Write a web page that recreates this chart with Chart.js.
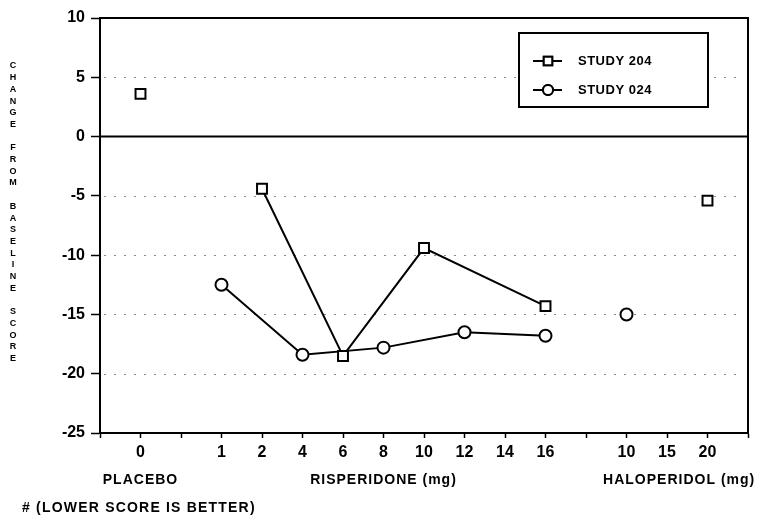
<!DOCTYPE html>
<html>
<head>
<meta charset="utf-8">
<script src="https://cdn.jsdelivr.net/npm/chart.js@4/dist/chart.umd.min.js"></script>
<style>
  html, body { margin: 0; padding: 0; background: #fff; }
  #wrap { width: 761px; height: 520px; }
</style>
</head>
<body>
<div id="wrap"><canvas id="chart" width="761" height="520"></canvas></div>
<script>
// dose categories along the x axis ('' = empty slot)
const categories = ['', '0', '', '1', '2', '4', '6', '8', '10', '12', '14', '16', '', '10', '15', '20', ''];
const doseGroup  = ['', 'placebo', '', 'risp', 'risp', 'risp', 'risp', 'risp', 'risp', 'risp', 'risp', 'risp', '', 'halo', 'halo', 'halo', ''];

// change from baseline score
const study204 = [null, 3.6, null, null, -4.4, null, -18.5, null, -9.4, null, null, -14.3, null, null, null, -5.4, null];
const study024 = [null, null, null, -12.5, null, -18.4, null, -17.8, null, -16.5, null, -16.8, null, -15.0, null, null, null];

const yTicks = [10, 5, 0, -5, -10, -15, -20, -25];
const yTitle = 'CHANGE FROM BASELINE SCORE';
const groupLabels = ['PLACEBO', 'RISPERIDONE (mg)', 'HALOPERIDOL (mg)'];
const footnote = '# (LOWER SCORE IS BETTER)';

const FONT = '"Liberation Sans", Arial, sans-serif';

function onlyGroup(values, keep) {
    return values.map((v, i) => keep(doseGroup[i]) ? v : null);
}

const baseStyle = {
    borderColor: '#000',
    backgroundColor: '#fff',
    borderWidth: 2,
    pointBorderWidth: 2,
    pointBackgroundColor: '#fff',
    pointBorderColor: '#000'
};

const datasets = [
    Object.assign({}, baseStyle, {
        label: 'STUDY 204',
        data: onlyGroup(study204, g => g === 'risp'),
        pointStyle: 'rect', pointRadius: 7, spanGaps: true
    }),
    Object.assign({}, baseStyle, {
        label: 'STUDY 024',
        data: onlyGroup(study024, g => g === 'risp'),
        pointStyle: 'circle', pointRadius: 6, spanGaps: true
    }),
    Object.assign({}, baseStyle, {
        label: '_204ctl',
        data: onlyGroup(study204, g => g !== 'risp'),
        pointStyle: 'rect', pointRadius: 7, showLine: false
    }),
    Object.assign({}, baseStyle, {
        label: '_024ctl',
        data: onlyGroup(study024, g => g !== 'risp'),
        pointStyle: 'circle', pointRadius: 6, showLine: false
    })
];

const decor = {
    id: 'decor',
    beforeDatasetsDraw(chart) {
        const { ctx, chartArea: a, scales: { x, y } } = chart;
        ctx.save();
        // dotted grid lines
        ctx.strokeStyle = '#888';
        ctx.lineWidth = 1;
        ctx.setLineDash([2, 8]);
        yTicks.forEach(v => {
            if (v === 10 || v === 0 || v === -25) return;
            const py = Math.round(y.getPixelForValue(v)) + 0.5;
            ctx.beginPath();
            ctx.moveTo(a.left + 4, py);
            ctx.lineTo(a.right - 4, py);
            ctx.stroke();
        });
        ctx.setLineDash([]);
        // solid zero line, top and right frame
        ctx.strokeStyle = '#000';
        ctx.lineWidth = 2;
        const y0 = y.getPixelForValue(0);
        ctx.beginPath();
        ctx.moveTo(a.left, y0); ctx.lineTo(a.right, y0);
        ctx.moveTo(a.left, a.top); ctx.lineTo(a.right, a.top); ctx.lineTo(a.right, a.bottom);
        ctx.stroke();
        ctx.restore();
    },
    afterDraw(chart) {
        const { ctx, chartArea: a, scales: { x, y } } = chart;
        ctx.save();
        ctx.fillStyle = '#000';

        // vertical stacked y title
        ctx.font = 'bold 9px ' + FONT;
        ctx.textAlign = 'center';
        ctx.textBaseline = 'middle';
        const step = 11.7;
        for (let i = 0; i < yTitle.length; i++) {
            ctx.fillText(yTitle[i], 13, 66 + i * step);
        }

        // group labels under the x axis, centred on each dose group
        ctx.font = 'bold 14px ' + FONT;
        ctx.letterSpacing = '1px';
        const gy = 480;
        ctx.fillText(groupLabels[0], x.getPixelForValue(1), gy);
        ctx.fillText(groupLabels[1], x.getPixelForValue(7), gy);
        ctx.fillText(groupLabels[2], x.getPixelForValue(14.3), gy);

        // footnote
        ctx.textAlign = 'left';
        ctx.letterSpacing = '1.2px';
        ctx.fillText(footnote, 22, 508);

        // legend box
        const bx = 519, by = 33, bw = 189, bh = 74;
        ctx.letterSpacing = '0.5px';
        ctx.strokeStyle = '#000';
        ctx.lineWidth = 2;
        ctx.fillStyle = '#fff';
        ctx.fillRect(bx, by, bw, bh);
        ctx.strokeRect(bx, by, bw, bh);
        const rows = [
            { ds: chart.data.datasets[0], yy: 61 },
            { ds: chart.data.datasets[1], yy: 90 }
        ];
        rows.forEach(r => {
            ctx.strokeStyle = '#000';
            ctx.lineWidth = 2;
            ctx.beginPath();
            ctx.moveTo(533, r.yy); ctx.lineTo(562, r.yy);
            ctx.stroke();
            ctx.fillStyle = '#fff';
            Chart.helpers.drawPoint(ctx, {
                pointStyle: r.ds.pointStyle,
                radius: r.ds.pointRadius - 1,
                borderWidth: 2
            }, 548, r.yy);
            ctx.fill();
            ctx.stroke();
            ctx.fillStyle = '#000';
            ctx.font = 'bold 13px ' + FONT;
            ctx.textAlign = 'left';
            ctx.fillText(r.ds.label, 578, r.yy);
        });
        ctx.restore();
    }
};

new Chart(document.getElementById('chart'), {
    type: 'line',
    data: { labels: categories, datasets: datasets },
    options: {
        responsive: false,
        animation: false,
        layout: { padding: { top: 18, right: 13, left: 0, bottom: 0 } },
        plugins: {
            legend: { display: false },
            tooltip: { enabled: false }
        },
        scales: {
            x: {
                type: 'category',
                offset: false,
                afterFit: s => { s.height = 87; },
                grid: {
                    drawOnChartArea: false,
                    offset: false,
                    tickLength: 5,
                    tickColor: '#000',
                    tickWidth: 1.5
                },
                border: { color: '#000', width: 2 },
                ticks: {
                    color: '#000',
                    font: { family: FONT, weight: 'bold', size: 16 },
                    padding: 5,
                    autoSkip: false,
                    maxRotation: 0
                }
            },
            y: {
                min: -25,
                max: 10,
                afterFit: s => { s.width = 100; },
                afterBuildTicks: s => { s.ticks = yTicks.map(v => ({ value: v })); },
                grid: {
                    drawOnChartArea: false,
                    tickLength: 9,
                    tickColor: '#000',
                    tickWidth: 1.5
                },
                border: { color: '#000', width: 2 },
                ticks: {
                    color: '#000',
                    font: { family: FONT, weight: 'bold', size: 16 },
                    padding: 6
                }
            }
        }
    },
    plugins: [decor]
});
</script>
</body>
</html>
